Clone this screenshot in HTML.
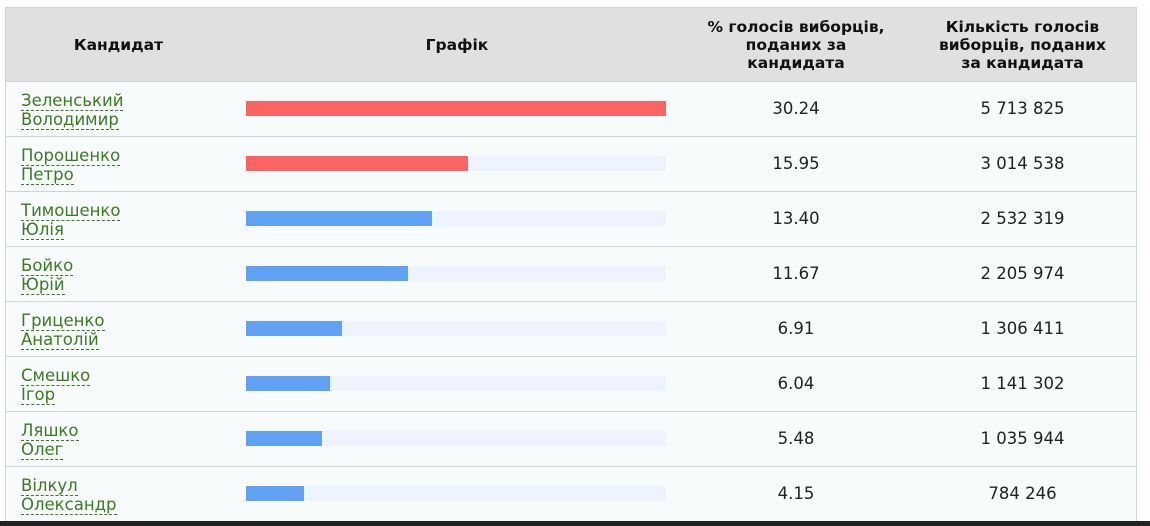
<!DOCTYPE html>
<html><head><meta charset="utf-8"><style>
body{margin:0;width:1150px;height:526px;background:#fff;overflow:hidden;font-family:"DejaVu Sans","Liberation Sans",sans-serif;position:relative}
#tbl{position:absolute;left:5px;top:7px;width:1130px;border:1px solid #cfd6da;border-bottom:none}
.hdr{height:73px;background:#e0e0e0;position:relative;border-bottom:1px solid #cfd6da;font-weight:bold;font-size:15.5px;color:#111}
.hdr div{position:absolute;top:0;height:73px;display:flex;align-items:center;justify-content:center;text-align:center;line-height:18px}
.row{height:54px;border-bottom:1px solid #cfd6da;background:#f8fbfc;position:relative}
.name{position:absolute;left:15px;top:9px;font-size:16.5px;line-height:19px;color:#3c7a24}
.name span{border-bottom:1px dashed #3c7a24}
.track{position:absolute;left:240px;top:19px;width:420px;height:15px;background:#eef4fd}
.bar{position:absolute;left:0;top:0;height:15px}
.pct,.votes{position:absolute;top:0;height:54px;line-height:54px;text-align:center;font-size:16.5px;color:#222}
.pct{left:677px;width:226px}.votes{left:903px;width:227px}
#strip{position:absolute;left:0;top:521px;width:1150px;height:5px;background:#222}
</style></head><body>
<div id="tbl">
<div class="hdr">
<div style="left:0;width:225px">Кандидат</div>
<div style="left:225px;width:452px">Графік</div>
<div style="left:677px;width:226px">% голосів виборців,<br>поданих за<br>кандидата</div>
<div style="left:903px;width:227px">Кількість голосів<br>виборців, поданих<br>за кандидата</div>
</div>
<div id="rows"></div>
</div>
<div id="strip"></div>
<script>
const surnames=["Зеленський","Порошенко","Тимошенко","Бойко","Гриценко","Смешко","Ляшко","Вілкул"];
const firstNames=["Володимир","Петро","Юлія","Юрій","Анатолій","Ігор","Олег","Олександр"];
const percents=[30.24,15.95,13.40,11.67,6.91,6.04,5.48,4.15];
const votes=["5 713 825","3 014 538","2 532 319","2 205 974","1 306 411","1 141 302","1 035 944","784 246"];
const maxPct=30.24, trackW=420;
function x(v){return v/maxPct*trackW;}
const rows=document.getElementById('rows');
percents.forEach((p,i)=>{
 const r=document.createElement('div');r.className='row';
 
 
 const n=document.createElement('div');n.className='name';
 
 
 n.innerHTML='<span>'+surnames[i]+'</span><br><span>'+firstNames[i]+'</span>';
 const t=document.createElement('div');t.className='track';
 
 
 const b=document.createElement('div');b.className='bar';
 
 
 b.style.width=x(p)+'px';b.style.background=i<2?'#fc6363':'#62a2f5';
 t.appendChild(b);
 const pc=document.createElement('div');pc.className='pct';
 
 
 pc.textContent=p.toFixed(2);
 const v=document.createElement('div');v.className='votes';
 
 
 v.textContent=votes[i];
 r.append(n,t,pc,v);rows.appendChild(r);
});
</script>
</body></html>
